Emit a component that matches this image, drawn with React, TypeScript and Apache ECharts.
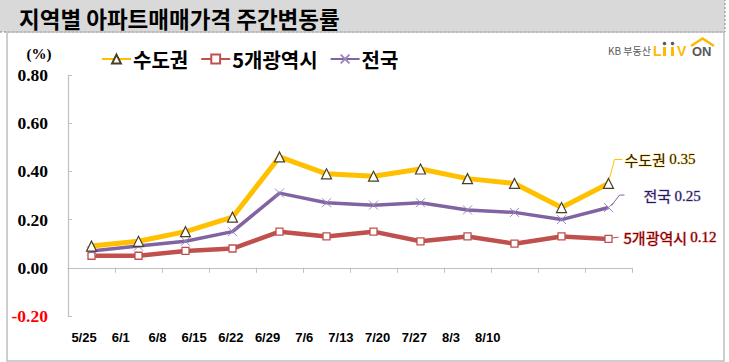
import React, { useEffect, useRef } from 'react';
import * as echarts from 'echarts';

const categories = ['5/25', '6/1', '6/8', '6/15', '6/22', '6/29', '7/6', '7/13', '7/20', '7/27', '8/3', '8/10'];
const capitalArea = [0.09, 0.11, 0.15, 0.21, 0.46, 0.39, 0.38, 0.41, 0.37, 0.35, 0.25, 0.35];
const metroCities = [0.05, 0.05, 0.07, 0.08, 0.15, 0.13, 0.15, 0.11, 0.13, 0.10, 0.13, 0.12];
const nationwide = [0.07, 0.09, 0.11, 0.15, 0.31, 0.27, 0.26, 0.27, 0.24, 0.23, 0.20, 0.25];
const seriesNames = ['수도권', '5개광역시', '전국'];
const titleText = '지역별 아파트매매가격 주간변동률';

const KR = '"Noto Sans CJK KR", "Noto Sans", sans-serif';
const SERIF = '"Liberation Serif", "DejaVu Serif", serif';
const SANS = '"Liberation Sans", Arial, sans-serif';

export default function App() {
  const ref = useRef<HTMLDivElement>(null);
  useEffect(() => {
    if (!ref.current) return;
    const chart = echarts.init(ref.current, null, { renderer: 'svg' });
    const staticGraphics: any[] = [
      { type: 'rect', z: 0, shape: { x: -2, y: -2, width: 727, height: 34 }, style: { fill: '#D9D9D9', stroke: '#7F7F7F', lineWidth: 1, lineDash: [2, 2] } },
      { type: 'rect', z: 0, shape: { x: 7, y: 32, width: 717, height: 329 }, style: { fill: 'none', stroke: '#BFBFBF', lineWidth: 1.5 } },
      { type: 'text', z: 5, x: 39, y: 54, style: { text: '(%)', font: `bold 15px ${SERIF}`, fill: '#000', align: 'center', verticalAlign: 'middle' } },
      { type: 'text', z: 5, x: 608, y: 50, style: { text: 'KB 부동산', font: `10px ${KR}`, fill: '#595959', verticalAlign: 'middle' } },
      { type: 'text', z: 5, x: 653, y: 51, style: { text: 'L', font: `900 14px ${SANS}`, fill: '#FFB900', verticalAlign: 'middle' } },
      { type: 'rect', z: 5, shape: { x: 663, y: 47, width: 3, height: 9 }, style: { fill: '#FFB900' } },
      { type: 'rect', z: 5, shape: { x: 671, y: 47, width: 3, height: 9 }, style: { fill: '#FFB900' } },
      { type: 'circle', z: 5, shape: { cx: 664.5, cy: 43.5, r: 1.8 }, style: { fill: '#595959' } },
      { type: 'circle', z: 5, shape: { cx: 672.5, cy: 43.5, r: 1.8 }, style: { fill: '#595959' } },
      { type: 'text', z: 5, x: 677, y: 51, style: { text: 'V', font: `900 14px ${SANS}`, fill: '#FFB900', verticalAlign: 'middle' } },
      { type: 'text', z: 5, x: 692, y: 51.5, style: { text: 'ON', font: `bold 13px ${SANS}`, fill: '#595959', verticalAlign: 'middle' } },
      { type: 'polyline', z: 5, shape: { points: [[691, 46], [702.5, 38.5], [714, 46]] }, style: { stroke: '#FFB900', lineWidth: 2.5, fill: 'none' } },
    ];

    chart.setOption({
      animation: false,
      title: {
        text: titleText,
        left: 14,
        top: 2,
        textStyle: { fontSize: 22.5, fontWeight: 'bold', fontFamily: KR, color: '#000' },
      },
      legend: {
        data: seriesNames,
        left: 101,
        top: 49,
        padding: 0,
        itemWidth: 29,
        itemHeight: 11,
        itemGap: 12,
        textStyle: { fontSize: 20, fontWeight: 'bold', fontFamily: KR, color: '#000', padding: [0, 0, 0, -3] },
      },
      grid: [
        { left: 68, width: 564, top: 75, height: 241 },
        { left: 65.7, width: 440.4, top: 300, height: 20 },
      ],
      xAxis: [
        {
          type: 'category',
          gridIndex: 0,
          data: categories,
          boundaryGap: true,
          axisLine: { show: true, onZero: true, lineStyle: { color: '#BFBFBF', width: 1.2 } },
          axisTick: { show: true, length: 5, lineStyle: { color: '#BFBFBF' } },
          axisLabel: { show: false },
          splitLine: { show: false },
        },
        {
          type: 'category',
          gridIndex: 1,
          data: categories,
          axisLine: { show: false },
          axisTick: { show: false },
          axisLabel: { show: true, interval: 0, margin: 11, fontFamily: SANS, fontWeight: 'bold', fontSize: 13, color: '#000' },
          splitLine: { show: false },
        },
      ],
      yAxis: [
        {
          type: 'value',
          gridIndex: 0,
          min: -0.2,
          max: 0.8,
          interval: 0.2,
          axisLine: { show: true, lineStyle: { color: '#BFBFBF', width: 1.2 } },
          axisTick: { show: true, inside: true, length: 4, lineStyle: { color: '#BFBFBF' } },
          splitLine: { show: false },
          axisLabel: {
            margin: 20,
            fontFamily: SERIF,
            fontWeight: 'bold',
            fontSize: 17.5,
            formatter: (v: number) => (Math.round(v * 100) / 100).toFixed(2),
            color: (v: any) => (Number(v) < -0.001 ? '#FF0000' : '#000000'),
          },
        },
        { type: 'value', gridIndex: 1, show: false },
      ],
      series: [
        {
          name: seriesNames[1],
          type: 'line',
          data: metroCities,
          z: 2,
          symbol: 'rect',
          symbolSize: 7,
          showAllSymbol: true,
          lineStyle: { color: '#C0504D', width: 4.5 },
          itemStyle: { color: '#FFFFFF', borderColor: '#C0504D', borderWidth: 1.3 },
          emphasis: { disabled: true },
        },
        {
          name: seriesNames[2],
          type: 'line',
          data: nationwide,
          z: 3,
          symbol: 'path://M0,0 L10,10 M10,0 L0,10',
          symbolSize: 9,
          showAllSymbol: true,
          lineStyle: { color: '#8064A2', width: 3.5 },
          itemStyle: { color: 'none', borderColor: '#9B86C2', borderWidth: 1 },
          emphasis: { disabled: true },
        },
        {
          name: seriesNames[0],
          type: 'line',
          data: capitalArea,
          z: 4,
          symbol: 'triangle',
          symbolSize: 10,
          showAllSymbol: true,
          lineStyle: { color: '#FFC000', width: 5 },
          itemStyle: { color: '#FFFFFF', borderColor: '#4A3F22', borderWidth: 1.2 },
          emphasis: { disabled: true },
        },
      ],
      graphic: staticGraphics,
    });

    const last = categories.length - 1;
    const pc = chart.convertToPixel({ xAxisIndex: 0, yAxisIndex: 0 }, [last, capitalArea[last]]) as number[];
    const pn = chart.convertToPixel({ xAxisIndex: 0, yAxisIndex: 0 }, [last, nationwide[last]]) as number[];
    const pm = chart.convertToPixel({ xAxisIndex: 0, yAxisIndex: 0 }, [last, metroCities[last]]) as number[];

    const rich = (fill: string) => ({
      k: { font: `15px ${KR}`, fill },
      n: { font: `15px ${SERIF}`, fill },
    });
    const endLabel = (x: number, y: number, name: string, value: number, fill: string, glow: string) => ({
      type: 'text',
      z: 10,
      x,
      y,
      style: {
        text: `{k|${name}} {n|${value.toFixed(2)}}`,
        rich: rich(fill),
        fill,
        verticalAlign: 'middle',
        stroke: glow,
        lineWidth: 1,
      },
    });

    const dyn: any[] = [
      { type: 'polyline', z: 10, shape: { points: [[pc[0] + 1, pc[1] - 5], [pc[0] + 6, pc[1] - 24], [pc[0] + 14, pc[1] - 24]] }, style: { stroke: '#FFC000', lineWidth: 1, fill: 'none' } },
      endLabel(pc[0] + 16, pc[1] - 24, seriesNames[0], capitalArea[last], '#2E2200', 'rgba(255,192,0,0.55)'),
      { type: 'polyline', z: 10, shape: { points: [[pn[0] + 3, pn[1] - 2], [pn[0] + 11, pn[1] - 12.5], [pn[0] + 16, pn[1] - 12.5]] }, style: { stroke: '#8064A2', lineWidth: 1, fill: 'none' } },
      endLabel(pn[0] + 35, pn[1] - 12, seriesNames[2], nationwide[last], '#2A1660', 'rgba(128,100,162,0.45)'),
      { type: 'polyline', z: 10, shape: { points: [[pm[0] + 4, pm[1] - 1], [pm[0] + 10, pm[1] - 1.7]] }, style: { stroke: '#C0504D', lineWidth: 1, fill: 'none' } },
      endLabel(pm[0] + 15, pm[1] - 1.5, seriesNames[1], metroCities[last], '#7A0000', 'rgba(220,0,0,0.45)'),
    ];

    chart.setOption({ graphic: [...staticGraphics, ...dyn] });

    return () => chart.dispose();
  }, []);

  return <div ref={ref} style={{ position: 'fixed', left: 0, top: 0, width: 729, height: 362, background: '#fff' }} />;
}
